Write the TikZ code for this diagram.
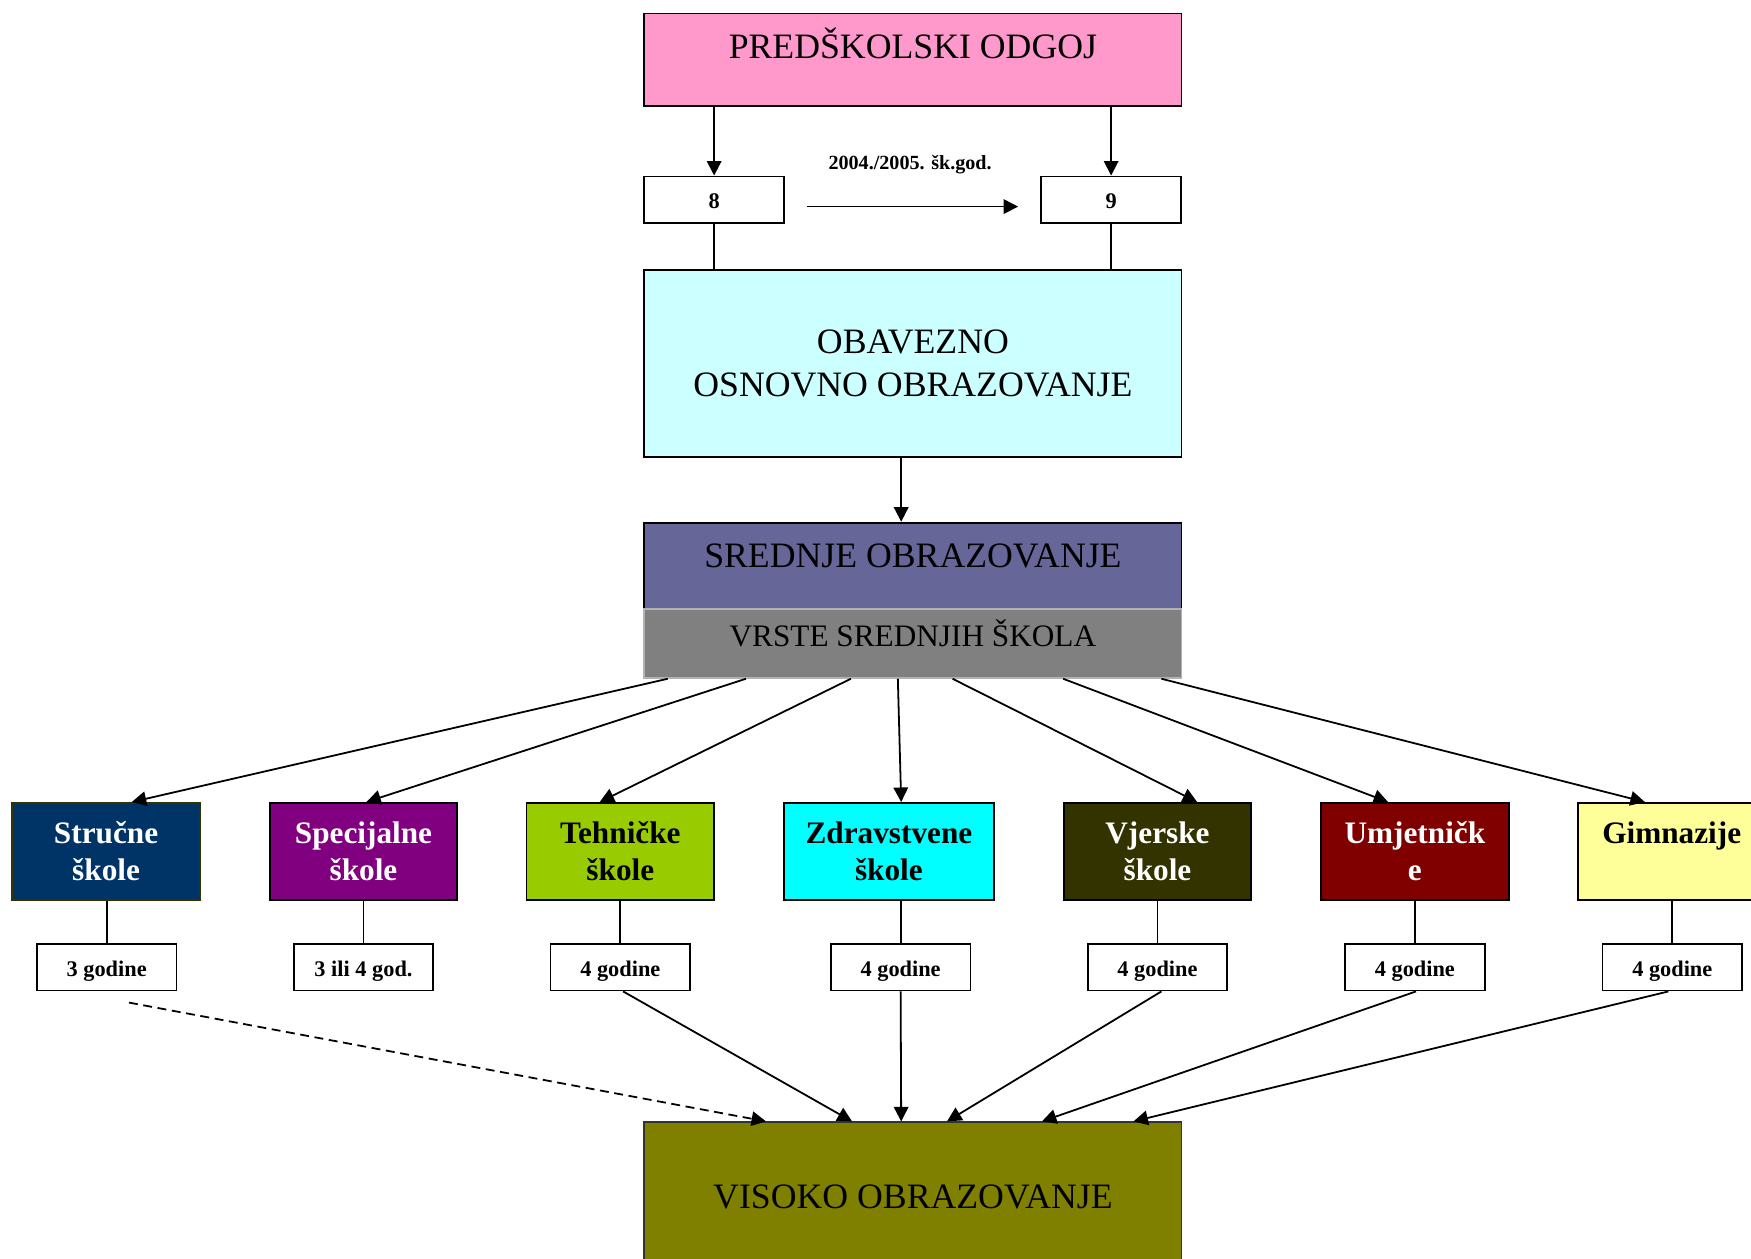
\documentclass[tikz,border=0pt]{standalone}
\usepackage{fontspec}
\setmainfont{Liberation Serif}
\usetikzlibrary{positioning, arrows.meta, calc}
\definecolor{predcol}{HTML}{FF99CC}
\definecolor{obavcol}{HTML}{CCFFFF}
\definecolor{srednjecol}{HTML}{666699}
\definecolor{vrstecol}{HTML}{808080}
\definecolor{strucol}{HTML}{003366}
\definecolor{specol}{HTML}{800080}
\definecolor{tehcol}{HTML}{99CC00}
\definecolor{zdrcol}{HTML}{00FFFF}
\definecolor{vjecol}{HTML}{333300}
\definecolor{umjcol}{HTML}{800000}
\definecolor{gimcol}{HTML}{FFFF99}
\definecolor{visokocol}{HTML}{808000}

\begin{document}
\begin{tikzpicture}[x=1pt, y=-1pt, line width=1.6pt,
          level/.style={draw, inner sep=0pt, minimum width=481pt, font=\fontsize{32}{38}\selectfont},
          school/.style={draw, inner sep=0pt, minimum width=168pt, minimum height=87pt, align=center, font=\bfseries\fontsize{28}{33}\selectfont},
          yrs/.style={draw, fill=white, inner sep=0pt, minimum width=125pt, text height=29pt, text depth=13pt, font=\bfseries\fontsize{20}{24}\selectfont},
          arr/.style={-{Triangle[length=13pt, width=13pt]}}]
        \useasboundingbox (0,0) rectangle (1568,1127);
        % levels
        \node[level, fill=predcol, text height=40pt, text depth=43pt] (pred) at (817.5,53.5) {PREDŠKOLSKI ODGOJ};
        \node[yrs] (n8) at (639.5,179) {8};
        \node[yrs] (n9) at (995,179) {9};
        \node[font=\bfseries\fontsize{18}{22}\selectfont] (shift) at (815,147) {2004./2005. šk.god.};
        \node[level, fill=obavcol, minimum height=167pt, align=center] (obav) at (817.5,325.5) {OBAVEZNO\\OSNOVNO OBRAZOVANJE};
        \node[level, fill=srednjecol, text height=40pt, text depth=37pt] (srednje) at (817.5,506.5) {SREDNJE OBRAZOVANJE};
        \node[level, fill=vrstecol, draw=gray!60, font=\fontsize{28}{33}\selectfont, text height=34pt, text depth=28pt] (vrste) at (817.5,576) {VRSTE SREDNJIH ŠKOLA};
        \node[level, fill=visokocol, draw=black!80, text height=77pt, text depth=58pt] (visoko) at (817.5,1072.5) {VISOKO OBRAZOVANJE};
        % schools
        \node[school, fill=strucol, draw=vjecol, text=white] (strucne) at (95,762.5) {Stručne\\škole};
        \node[school, fill=specol, text=white] (specijalne) at (325.5,762.5) {Specijalne\\škole};
        \node[school, fill=tehcol] (tehnicke) at (555.5,762.5) {Tehničke\\škole};
        \node[school, fill=zdrcol, minimum width=188pt] (zdravstvene) at (796,762.5) {Zdravstvene\\škole};
        \node[school, fill=vjecol, text=white] (vjerske) at (1036.5,762.5) {Vjerske\\škole};
        \node[school, fill=umjcol, text=white] (umjetnicke) at (1267,762.5) {Umjetničk\\e};
        \node[school, fill=gimcol] (gimnazije) at (1497,762.5) {Gimnazije\\~};
        % durations
        \node[yrs] (y1) at (95.5,866) {3 godine};
        \node[yrs] (y2) at (325.5,866) {3 ili 4 god.};
        \node[yrs] (y3) at (555.5,866) {4 godine};
        \node[yrs] (y4) at (806.5,866) {4 godine};
        \node[yrs] (y5) at (1036.5,866) {4 godine};
        \node[yrs] (y6) at (1267,866) {4 godine};
        \node[yrs] (y7) at (1497.5,866) {4 godine};
        % connectors
        \draw[arr] (n8.north |- pred.south) -- (n8.north); \draw[arr] (n9.north |- pred.south) -- (n9.north);
        \draw[arr] ($(n8.east)+(20,6)$) -- ($(n9.west)+(-20,6)$);
        \draw (n8.south) -- (n8.south |- obav.north); \draw (n9.south) -- (n9.south |- obav.north);
        \draw[arr] ($(obav.south)+(-10.5,0)$) -- ($(srednje.north)+(-10.5,0)$);
        \draw[arr] ($(vrste.south)+(-219.5,0)$) -- ($(strucne.north)+(23,0)$);
        \draw[arr] ($(vrste.south)+(-149.5,0)$) -- ($(specijalne.north)+(2.5,0)$);
        \draw[arr] ($(vrste.south)+(-55.5,0)$) -- ($(tehnicke.north)+(-18.5,0)$);
        \draw[arr] ($(vrste.south)+(-13.5,0)$) -- ($(zdravstvene.north)+(11,0)$);
        \draw[arr] ($(vrste.south)+(35.5,0)$) -- ($(vjerske.north)+(35.5,0)$);
        \draw[arr] ($(vrste.south)+(134.5,0)$) -- ($(umjetnicke.north)+(-24,0)$);
        \draw[arr] ($(vrste.south)+(222.5,0)$) -- ($(gimnazije.north)+(-24,0)$);
        \draw (y1.north |- strucne.south) -- (y1.north); \draw (y2.north |- specijalne.south) -- (y2.north);
        \draw (y3.north |- tehnicke.south) -- (y3.north); \draw (y4.north |- zdravstvene.south) -- (y4.north);
        \draw (y5.north |- vjerske.south) -- (y5.north); \draw (y6.north |- umjetnicke.south) -- (y6.north);
        \draw (y7.north |- gimnazije.south) -- (y7.north);
        \draw[arr, dash pattern=on 8pt off 5pt] ($(y1.south)+(20,10)$) -- ($(visoko.north)+(-131.5,0)$);
        \draw[arr] ($(y3.south)+(2.5,0)$) -- ($(visoko.north)+(-54.5,0)$);
        \draw[arr] (y4.south) -- ($(visoko.north)+(-10.5,0)$);
        \draw[arr] ($(y5.south)+(3.5,0)$) -- ($(visoko.north)+(30.5,0)$);
        \draw[arr] ($(y6.south)+(1,0)$) -- ($(visoko.north)+(115.5,0)$);
        \draw[arr] ($(y7.south)+(-3.5,0)$) -- ($(visoko.north)+(197.5,0)$);
      \end{tikzpicture}
\end{document}
